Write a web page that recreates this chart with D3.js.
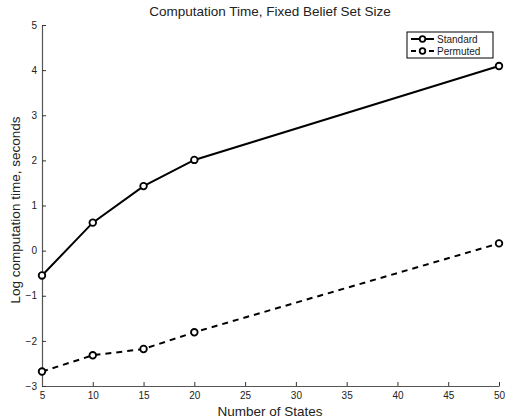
<!DOCTYPE html>
<html>
<head>
<meta charset="utf-8">
<script src="https://cdn.jsdelivr.net/npm/d3@7"></script>
<style>
  body { margin: 0; background: #fff; }
  text { font-family: "Liberation Sans", Arial, sans-serif; }
</style>
</head>
<body>
<svg></svg>
<script>
// Data
const states = [5, 10, 15, 20, 50]
const standard = [-0.55, 0.62, 1.43, 2.01, 4.09]
const permuted = [-2.68, -2.32, -2.18, -1.81, 0.16]
const xTicks = [5, 10, 15, 20, 25, 30, 35, 40, 45, 50]
const yTicks = [-3, -2, -1, 0, 1, 2, 3, 4, 5]

// Layout
var svgWidth = 507, svgHeight = 419
var margin = { left: 42, right: 8, top: 25, bottom: 33 }

var svg = d3.select('svg')
    .attr("width", svgWidth)
    .attr("height", svgHeight)

var x = d3.scaleLinear().domain([5, 50]).range([margin.left, svgWidth - margin.right])
var y = d3.scaleLinear().domain([-3, 5]).range([svgHeight - margin.bottom, margin.top])

// Axes (ticks inside, like matlab)
var xAxis = svg.append("g")
    .attr("transform", "translate(0," + y(-3) + ")")
    .call(d3.axisBottom(x).tickValues(xTicks).tickSizeInner(-4).tickSizeOuter(0).tickPadding(6))
var yAxis = svg.append("g")
    .attr("transform", "translate(" + x(5) + ",0)")
    .call(d3.axisLeft(y).tickValues(yTicks).tickSizeInner(-4).tickSizeOuter(0).tickPadding(5)
        .tickFormat(d => d < 0 ? "\u2212" + Math.abs(d) : d))

svg.selectAll(".domain").attr("stroke", "#555").attr("stroke-width", 1.2)
svg.selectAll(".tick line").attr("stroke", "#333")
svg.selectAll(".tick text").attr("font-size", 10).attr("fill", "#222")
    .attr("font-family", "Liberation Sans, Arial, sans-serif")

// Titles
svg.append("text")
    .attr("x", 270).attr("y", 16)
    .attr("text-anchor", "middle")
    .attr("font-size", 13.5).attr("fill", "#222")
    .text("Computation Time, Fixed Belief Set Size")

svg.append("text")
    .attr("x", 270).attr("y", 416)
    .attr("text-anchor", "middle")
    .attr("font-size", 13.5).attr("fill", "#222")
    .text("Number of States")

svg.append("text")
    .attr("transform", "translate(20," + y(0.9) + ") rotate(-90)")
    .attr("text-anchor", "middle")
    .attr("font-size", 13.5).attr("fill", "#222")
    .text("Log computation time, seconds")

// Series
var series = [
    { name: "Standard", values: standard, dash: null },
    { name: "Permuted", values: permuted, dash: "6,5" }
]

var line = d3.line()
    .x((d, i) => x(states[i]))
    .y(d => y(d))

series.forEach(s => {
    svg.append("path")
        .datum(s.values)
        .attr("d", line)
        .attr("fill", "none")
        .attr("stroke", "#000")
        .attr("stroke-width", 2)
        .attr("stroke-dasharray", s.dash)

    svg.selectAll(null)
        .data(s.values)
        .enter()
        .append("circle")
        .attr("cx", (d, i) => x(states[i]))
        .attr("cy", d => y(d))
        .attr("r", 3.3)
        .attr("fill", "#fff")
        .attr("stroke", "#000")
        .attr("stroke-width", 1.8)
})

// Legend
var legend = svg.append("g").attr("transform", "translate(407,32)")
legend.append("rect")
    .attr("width", 86).attr("height", 26)
    .attr("fill", "#fff").attr("stroke", "#000").attr("stroke-width", 1)

series.forEach((s, i) => {
    var ly = 7 + i * 12
    legend.append("line")
        .attr("x1", 4).attr("x2", 27)
        .attr("y1", ly).attr("y2", ly)
        .attr("stroke", "#000").attr("stroke-width", 2)
        .attr("stroke-dasharray", s.dash ? "5,4" : null)
    legend.append("circle")
        .attr("cx", 15.5).attr("cy", ly).attr("r", 2.8)
        .attr("fill", "#fff").attr("stroke", "#000").attr("stroke-width", 1.8)
    legend.append("text")
        .attr("x", 30).attr("y", ly + 3.5)
        .attr("font-size", 10).attr("fill", "#222")
        .text(s.name)
})
</script>
</body>
</html>
